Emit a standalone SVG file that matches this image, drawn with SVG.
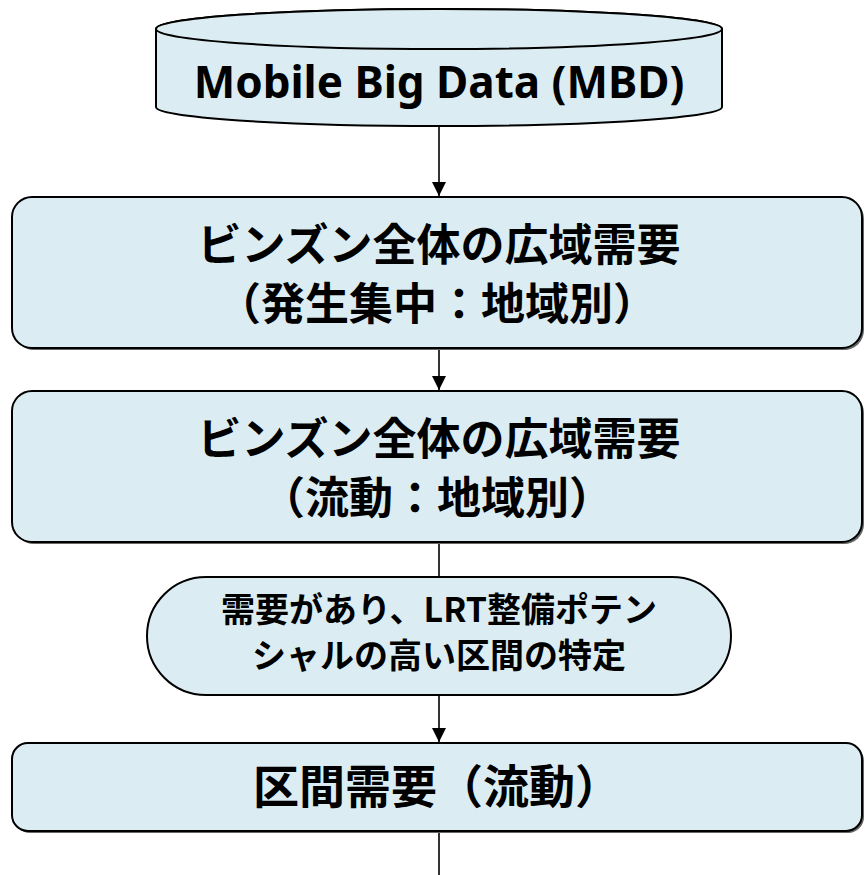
<svg xmlns="http://www.w3.org/2000/svg" width="866" height="875" viewBox="0 0 866 875">
<defs>
<style>
.box{fill:#dbedf3;stroke:#000;stroke-width:2}
.shadow{fill:#666;stroke:none}
.jp{font-family:"Noto Sans CJK JP","Noto Sans",sans-serif;font-weight:700;fill:#000;text-anchor:middle}
.en{font-family:"Noto Sans","Open Sans",sans-serif;font-weight:700;fill:#000;text-anchor:middle}
.conn{stroke:#000;stroke-width:1.6;fill:none}
</style>
<marker id="arr" viewBox="0 0 14 16" refX="14" refY="7" markerWidth="14" markerHeight="16" markerUnits="userSpaceOnUse" orient="auto">
<path d="M0,0 L14,7 L0,14 Z" fill="#000"/>
</marker>
</defs>
<rect width="866" height="875" fill="#fff"/>
<g id="connectors">
<line class="conn" x1="439" y1="127" x2="439" y2="196" marker-end="url(#arr)"/>
<line class="conn" x1="439" y1="349" x2="439" y2="390" marker-end="url(#arr)"/>
<line class="conn" x1="439" y1="543" x2="439" y2="577"/>
<line class="conn" x1="439" y1="696" x2="439" y2="742" marker-end="url(#arr)"/>
<line class="conn" x1="439" y1="832" x2="439" y2="875"/>
</g>
<g id="mbd">
<path class="box" d="M156,29 L156,107 A283,19 0 0 0 722,107 L722,29 A283,20 0 0 0 156,29 Z"/>
<ellipse class="box" cx="439" cy="29" rx="283" ry="20"/>
<text class="en" x="439" y="98" font-size="44">Mobile Big Data (MBD)</text>
</g>
<g id="regional-gen">
<rect class="shadow" x="14" y="199" width="850" height="151" rx="20"/>
<rect class="box" x="12" y="197" width="850" height="151" rx="20"/>
<text class="jp" x="439" y="261" font-size="44">ビンズン全体の広域需要</text>
<text class="jp" x="437" y="320" font-size="44">（発生集中：地域別）</text>
</g>
<g id="regional-flow">
<rect class="shadow" x="14" y="393" width="850" height="151" rx="20"/>
<rect class="box" x="12" y="391" width="850" height="151" rx="20"/>
<text class="jp" x="439" y="455" font-size="44">ビンズン全体の広域需要</text>
<text class="jp" x="437" y="514" font-size="44">（流動：地域別）</text>
</g>
<g id="identify">
<rect class="box" x="147" y="577" width="584" height="118" rx="59"/>
<text class="jp" x="439" y="622" font-size="34">需要があり、LRT整備ポテン</text>
<text class="jp" x="439" y="668" font-size="34">シャルの高い区間の特定</text>
</g>
<g id="section-demand">
<rect class="shadow" x="14" y="745" width="850" height="88" rx="16"/>
<rect class="box" x="12" y="743" width="850" height="88" rx="16"/>
<text class="jp" x="437" y="803" font-size="46">区間需要（流動）</text>
</g>
</svg>
